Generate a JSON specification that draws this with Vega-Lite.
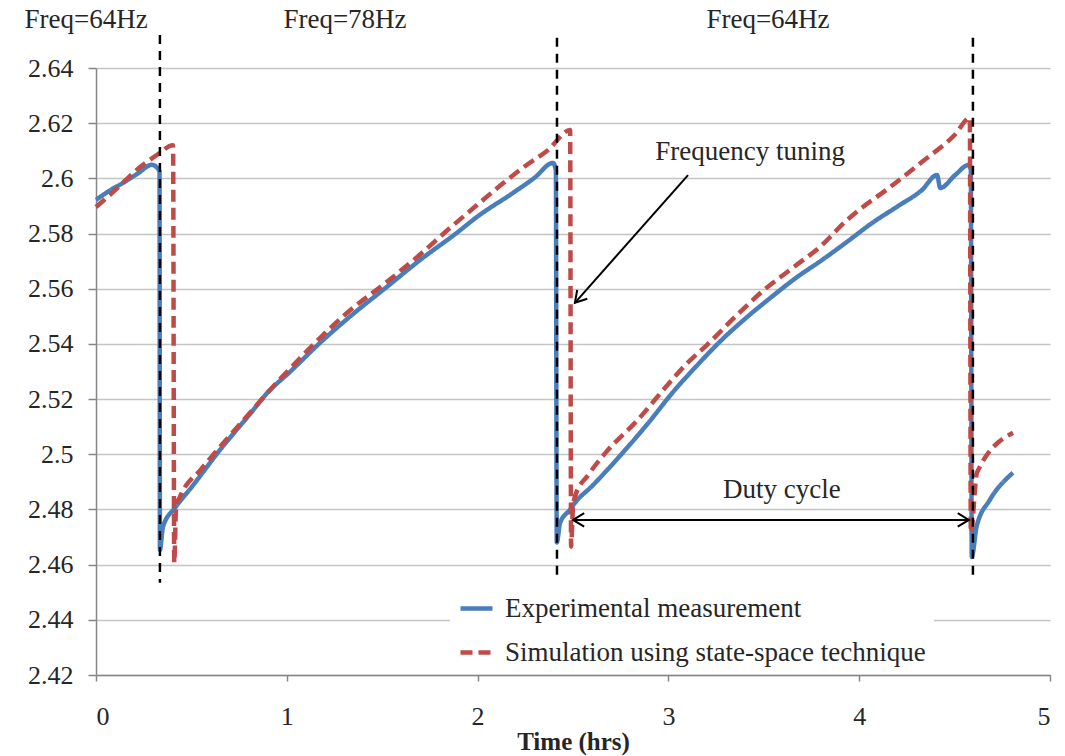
{
  "$schema": "https://vega.github.io/schema/vega-lite/v6.json",
  "width": 954,
  "height": 607,
  "autosize": {"type": "none"},
  "padding": {"left": 96, "top": 68, "right": 15, "bottom": 81},
  "background": "white",
  "config": {
    "view": {"stroke": null},
    "font": "Liberation Serif",
    "axis": {"labelFont": "Liberation Serif", "titleFont": "Liberation Serif", "labelColor": "#262626", "titleColor": "#262626"}
  },
  "layer": [
    {
      "data": {"values": [
        {"series": "Experimental measurement", "t": 0, "v": 2.5922},
        {"series": "Experimental measurement", "t": 0.07, "v": 2.5955},
        {"series": "Experimental measurement", "t": 0.14, "v": 2.5983},
        {"series": "Experimental measurement", "t": 0.22, "v": 2.6018},
        {"series": "Experimental measurement", "t": 0.293, "v": 2.6049},
        {"series": "Experimental measurement", "t": 0.325, "v": 2.6035},
        {"series": "Experimental measurement", "t": 0.333, "v": 2.6025},
        {"series": "Experimental measurement", "t": 0.335, "v": 2.4654},
        {"series": "Experimental measurement", "t": 0.351, "v": 2.4737},
        {"series": "Experimental measurement", "t": 0.414, "v": 2.4806},
        {"series": "Experimental measurement", "t": 0.5, "v": 2.488},
        {"series": "Experimental measurement", "t": 0.65, "v": 2.5016},
        {"series": "Experimental measurement", "t": 0.8, "v": 2.514},
        {"series": "Experimental measurement", "t": 0.912, "v": 2.5233},
        {"series": "Experimental measurement", "t": 1.0, "v": 2.5288},
        {"series": "Experimental measurement", "t": 1.19, "v": 2.5414},
        {"series": "Experimental measurement", "t": 1.35, "v": 2.551},
        {"series": "Experimental measurement", "t": 1.525, "v": 2.5607},
        {"series": "Experimental measurement", "t": 1.7, "v": 2.5705},
        {"series": "Experimental measurement", "t": 1.89, "v": 2.5802},
        {"series": "Experimental measurement", "t": 2.0, "v": 2.5862},
        {"series": "Experimental measurement", "t": 2.185, "v": 2.5947},
        {"series": "Experimental measurement", "t": 2.3, "v": 2.6003},
        {"series": "Experimental measurement", "t": 2.395, "v": 2.6056},
        {"series": "Experimental measurement", "t": 2.41, "v": 2.603},
        {"series": "Experimental measurement", "t": 2.415, "v": 2.468},
        {"series": "Experimental measurement", "t": 2.432, "v": 2.4751},
        {"series": "Experimental measurement", "t": 2.484, "v": 2.4799},
        {"series": "Experimental measurement", "t": 2.51, "v": 2.4824},
        {"series": "Experimental measurement", "t": 2.6, "v": 2.4885},
        {"series": "Experimental measurement", "t": 2.76, "v": 2.5005},
        {"series": "Experimental measurement", "t": 2.9, "v": 2.5118},
        {"series": "Experimental measurement", "t": 3.02, "v": 2.5222},
        {"series": "Experimental measurement", "t": 3.15, "v": 2.5322},
        {"series": "Experimental measurement", "t": 3.28, "v": 2.5415},
        {"series": "Experimental measurement", "t": 3.4, "v": 2.549},
        {"series": "Experimental measurement", "t": 3.54, "v": 2.557},
        {"series": "Experimental measurement", "t": 3.67, "v": 2.564},
        {"series": "Experimental measurement", "t": 3.805, "v": 2.5704},
        {"series": "Experimental measurement", "t": 3.94, "v": 2.5772},
        {"series": "Experimental measurement", "t": 4.067, "v": 2.5838},
        {"series": "Experimental measurement", "t": 4.2, "v": 2.5898},
        {"series": "Experimental measurement", "t": 4.329, "v": 2.5958},
        {"series": "Experimental measurement", "t": 4.408, "v": 2.6012},
        {"series": "Experimental measurement", "t": 4.425, "v": 2.5965},
        {"series": "Experimental measurement", "t": 4.5, "v": 2.601},
        {"series": "Experimental measurement", "t": 4.575, "v": 2.6049},
        {"series": "Experimental measurement", "t": 4.585, "v": 2.603},
        {"series": "Experimental measurement", "t": 4.59, "v": 2.4628},
        {"series": "Experimental measurement", "t": 4.615, "v": 2.4737},
        {"series": "Experimental measurement", "t": 4.685, "v": 2.4835},
        {"series": "Experimental measurement", "t": 4.806, "v": 2.4933},
        {"series": "Simulation using state-space technique", "t": 0, "v": 2.5896},
        {"series": "Simulation using state-space technique", "t": 0.073, "v": 2.594},
        {"series": "Simulation using state-space technique", "t": 0.246, "v": 2.6049},
        {"series": "Simulation using state-space technique", "t": 0.32, "v": 2.6085},
        {"series": "Simulation using state-space technique", "t": 0.404, "v": 2.612},
        {"series": "Simulation using state-space technique", "t": 0.41, "v": 2.4607},
        {"series": "Simulation using state-space technique", "t": 0.42, "v": 2.481},
        {"series": "Simulation using state-space technique", "t": 0.44, "v": 2.4846},
        {"series": "Simulation using state-space technique", "t": 0.55, "v": 2.4945},
        {"series": "Simulation using state-space technique", "t": 0.65, "v": 2.5027},
        {"series": "Simulation using state-space technique", "t": 0.8, "v": 2.5145},
        {"series": "Simulation using state-space technique", "t": 0.912, "v": 2.5233},
        {"series": "Simulation using state-space technique", "t": 1.0, "v": 2.5298},
        {"series": "Simulation using state-space technique", "t": 1.15, "v": 2.5405},
        {"series": "Simulation using state-space technique", "t": 1.315, "v": 2.5512},
        {"series": "Simulation using state-space technique", "t": 1.525, "v": 2.5625},
        {"series": "Simulation using state-space technique", "t": 1.7, "v": 2.5725},
        {"series": "Simulation using state-space technique", "t": 1.855, "v": 2.582},
        {"series": "Simulation using state-space technique", "t": 2.0, "v": 2.5905},
        {"series": "Simulation using state-space technique", "t": 2.135, "v": 2.5983},
        {"series": "Simulation using state-space technique", "t": 2.25, "v": 2.6045},
        {"series": "Simulation using state-space technique", "t": 2.37, "v": 2.6103},
        {"series": "Simulation using state-space technique", "t": 2.485, "v": 2.6175},
        {"series": "Simulation using state-space technique", "t": 2.49, "v": 2.4665},
        {"series": "Simulation using state-space technique", "t": 2.5, "v": 2.481},
        {"series": "Simulation using state-space technique", "t": 2.51, "v": 2.4846},
        {"series": "Simulation using state-space technique", "t": 2.58, "v": 2.4925},
        {"series": "Simulation using state-space technique", "t": 2.67, "v": 2.5005},
        {"series": "Simulation using state-space technique", "t": 2.84, "v": 2.5125},
        {"series": "Simulation using state-space technique", "t": 3.0, "v": 2.5255},
        {"series": "Simulation using state-space technique", "t": 3.1, "v": 2.5331},
        {"series": "Simulation using state-space technique", "t": 3.2, "v": 2.5395},
        {"series": "Simulation using state-space technique", "t": 3.36, "v": 2.5505},
        {"series": "Simulation using state-space technique", "t": 3.5, "v": 2.5595},
        {"series": "Simulation using state-space technique", "t": 3.65, "v": 2.5675},
        {"series": "Simulation using state-space technique", "t": 3.8, "v": 2.5755},
        {"series": "Simulation using state-space technique", "t": 3.93, "v": 2.5845},
        {"series": "Simulation using state-space technique", "t": 4.0, "v": 2.5886},
        {"series": "Simulation using state-space technique", "t": 4.15, "v": 2.5962},
        {"series": "Simulation using state-space technique", "t": 4.33, "v": 2.606},
        {"series": "Simulation using state-space technique", "t": 4.5, "v": 2.6157},
        {"series": "Simulation using state-space technique", "t": 4.58, "v": 2.6219},
        {"series": "Simulation using state-space technique", "t": 4.585, "v": 2.4715},
        {"series": "Simulation using state-space technique", "t": 4.617, "v": 2.4933},
        {"series": "Simulation using state-space technique", "t": 4.806, "v": 2.5078}
      ]},
      "mark": {"type": "line", "strokeWidth": 4.5, "strokeJoin": "round", "interpolate": "monotone"},
      "encoding": {
        "x": {
          "field": "t", "type": "quantitative",
          "scale": {"domain": [0, 5], "nice": false},
          "axis": {
            "title": "Time (hrs)", "values": [0, 1, 2, 3, 4, 5], "format": "d",
            "grid": false, "domainColor": "#868686", "domainWidth": 1.5,
            "tickColor": "#868686", "tickSize": 6, "tickWidth": 1.5,
            "labelFontSize": 26, "labelPadding": 22,
            "titleFontSize": 25, "titleFontWeight": "bold", "titlePadding": 0
          }
        },
        "y": {
          "field": "v", "type": "quantitative",
          "scale": {"domain": [2.42, 2.64], "nice": false, "zero": false},
          "axis": {
            "title": null,
            "values": [2.42, 2.44, 2.46, 2.48, 2.5, 2.52, 2.54, 2.56, 2.58, 2.6, 2.62, 2.64],
            "format": "~g",
            "grid": true, "gridColor": "#C4C4C4", "gridWidth": 1.5,
            "domainColor": "#868686", "domainWidth": 1.5,
            "tickColor": "#868686", "tickSize": 8, "tickWidth": 1.5,
            "labelFontSize": 26, "labelPadding": 15
          }
        },
        "color": {
          "field": "series", "type": "nominal",
          "scale": {"domain": ["Experimental measurement", "Simulation using state-space technique"], "range": ["#4A7EBB", "#BE4B48"]},
          "legend": {
            "title": null, "orient": "none", "legendX": 354, "legendY": 514,
            "fillColor": "white", "padding": 8,
            "symbolType": "stroke", "symbolSize": 1024, "symbolStrokeWidth": 4.5,
            "labelFont": "Liberation Serif", "labelFontSize": 27, "labelColor": "#262626",
            "labelOffset": 10, "rowPadding": 12, "labelLimit": 700
          }
        },
        "strokeDash": {
          "field": "series", "type": "nominal",
          "scale": {"domain": ["Experimental measurement", "Simulation using state-space technique"], "range": [[1, 0], [12, 6]]},
          "legend": null
        }
      }
    },
    {
      "data": {"values": [
        {"t": 0.335, "top": 2.652, "bottom": 2.4534},
        {"t": 2.416, "top": 2.651, "bottom": 2.4545},
        {"t": 4.596, "top": 2.651, "bottom": 2.4556}
      ]},
      "mark": {"type": "rule", "color": "black", "strokeWidth": 2.5, "strokeDash": [9, 7]},
      "encoding": {
        "x": {"field": "t", "type": "quantitative"},
        "y": {"field": "top", "type": "quantitative"},
        "y2": {"field": "bottom"}
      }
    },
    {
      "data": {"values": [
        {"x1": 3.103, "y1": 2.6012, "x2": 2.51, "y2": 2.5549},
        {"x1": 2.5, "y1": 2.4762, "x2": 4.575, "y2": 2.4762}
      ]},
      "mark": {"type": "rule", "color": "black", "strokeWidth": 2},
      "encoding": {
        "x": {"field": "x1", "type": "quantitative"},
        "y": {"field": "y1", "type": "quantitative"},
        "x2": {"field": "x2"},
        "y2": {"field": "y2"}
      }
    },
    {
      "data": {"values": [{"t": 2.51, "v": 2.5549}]},
      "mark": {"type": "point", "shape": "M -1 -0.6 L 0 0 L -1 0.6", "filled": false, "stroke": "black", "strokeWidth": 2, "size": 500, "angle": 131, "opacity": 1},
      "encoding": {"x": {"field": "t", "type": "quantitative"}, "y": {"field": "v", "type": "quantitative"}}
    },
    {
      "data": {"values": [{"t": 2.5, "v": 2.4762}]},
      "mark": {"type": "point", "shape": "M -1 -0.6 L 0 0 L -1 0.6", "filled": false, "stroke": "black", "strokeWidth": 2, "size": 500, "angle": 180, "opacity": 1},
      "encoding": {"x": {"field": "t", "type": "quantitative"}, "y": {"field": "v", "type": "quantitative"}}
    },
    {
      "data": {"values": [{"t": 4.575, "v": 2.4762}]},
      "mark": {"type": "point", "shape": "M -1 -0.6 L 0 0 L -1 0.6", "filled": false, "stroke": "black", "strokeWidth": 2, "size": 500, "angle": 0, "opacity": 1},
      "encoding": {"x": {"field": "t", "type": "quantitative"}, "y": {"field": "v", "type": "quantitative"}}
    },
    {
      "data": {"values": [
        {"t": -0.052, "v": 2.6574, "label": "Freq=64Hz"},
        {"t": 1.305, "v": 2.6574, "label": "Freq=78Hz"},
        {"t": 3.522, "v": 2.6574, "label": "Freq=64Hz"},
        {"t": 3.428, "v": 2.6096, "label": "Frequency tuning"},
        {"t": 3.595, "v": 2.4871, "label": "Duty cycle"}
      ]},
      "mark": {"type": "text", "font": "Liberation Serif", "fontSize": 27, "color": "#262626", "align": "center", "baseline": "middle"},
      "encoding": {
        "x": {"field": "t", "type": "quantitative"},
        "y": {"field": "v", "type": "quantitative"},
        "text": {"field": "label"}
      }
    }
  ]
}
